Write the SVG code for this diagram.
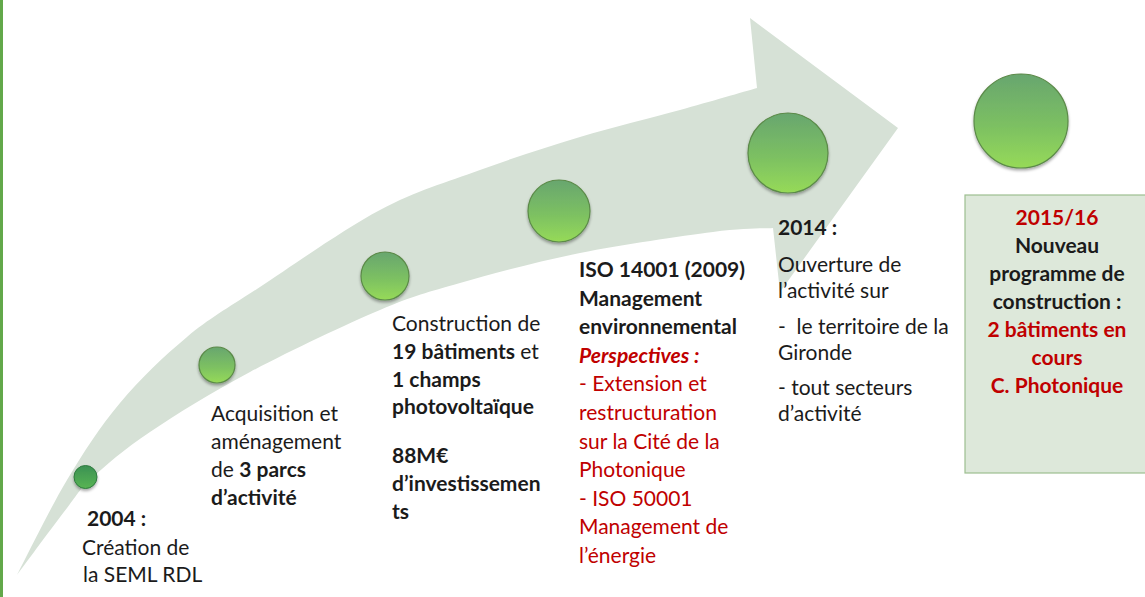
<svg xmlns="http://www.w3.org/2000/svg" width="1145" height="597" viewBox="0 0 1145 597">
<defs>
<linearGradient id="ball" x1="0" y1="0" x2="0" y2="1">
<stop offset="0" stop-color="#68a66f"/>
<stop offset="0.55" stop-color="#7cc062"/>
<stop offset="1" stop-color="#96da58"/>
</linearGradient>
<linearGradient id="ball1" x1="0" y1="0" x2="0" y2="1">
<stop offset="0" stop-color="#3b9152"/>
<stop offset="1" stop-color="#58b452"/>
</linearGradient>
<filter id="sh" x="-30%" y="-30%" width="160%" height="160%">
<feGaussianBlur in="SourceAlpha" stdDeviation="1.5"/>
<feOffset dx="0" dy="1.5" result="b"/>
<feComponentTransfer><feFuncA type="linear" slope="0.35"/></feComponentTransfer>
<feMerge><feMergeNode/><feMergeNode in="SourceGraphic"/></feMerge>
</filter>
</defs>
<style>
text{font-family:Lato,"Liberation Sans",sans-serif;font-size:21px;fill:#1b1b1b;white-space:pre}
.b{font-weight:bold}
.r{fill:#c00000}
.i{font-style:italic}
.ball{fill:url(#ball);stroke:#5b8a48;stroke-width:1.2;filter:url(#sh)}
.c{text-anchor:middle}
</style>
<rect x="0" y="0" width="1145" height="597" fill="#ffffff"/>
<rect x="0" y="0" width="3" height="597" fill="#62a84a"/>
<g id="timeline-arrow">
<path d="M17,575 C25.3,559.2 49.8,508.7 67,480 C84.2,451.3 100,426.8 120,403 C140,379.2 163.7,356.3 187,337 C210.3,317.7 227.8,308.2 260,287 C292.2,265.8 343.3,229.5 380,210 C416.7,190.5 446.7,182.2 480,170 C513.3,157.8 546.7,147 580,137 C613.3,127 650.5,118.2 680,110 C709.5,101.8 744.2,91.7 757,88 L750,18 L898,128 L780,292 L773,228 C763,228.7 745.2,227.8 713,232 C680.8,236.2 622.2,244.5 580,253 C537.8,261.5 493.3,273.5 460,283 C426.7,292.5 415,295.2 380,310 C345,324.8 288.3,351.7 250,372 C211.7,392.3 176.3,414.3 150,432 C123.7,449.7 105.8,465.3 92,478 C78.2,490.7 79.5,491.8 67,508 C54.5,524.2 25.3,563.8 17,575 Z" fill="#d6e1d6"/>
</g>
<g id="connectors"></g>
<g id="node-2004">
<circle cx="85.5" cy="477" r="11.5" fill="url(#ball1)" stroke="#2f7a40" stroke-width="1" filter="url(#sh)"/>
<text x="87" y="526" class="b">2004 :</text>
<text x="82" y="555">Création de</text>
<text x="83" y="582">la SEML RDL</text>
</g>
<g id="node-acquisition">
<circle class="ball" cx="217" cy="365" r="18"/>
<text x="211" y="421">Acquisition et</text>
<text x="211" y="449">aménagement</text>
<text x="211" y="477">de <tspan class="b">3 parcs</tspan></text>
<text x="211" y="505" class="b">d’activité</text>
</g>
<g id="node-construction">
<circle class="ball" cx="385" cy="276" r="24"/>
<text x="392" y="331">Construction de</text>
<text x="392" y="359"><tspan class="b">19 bâtiments</tspan> et</text>
<text x="392" y="387" class="b">1 champs</text>
<text x="392" y="414" class="b">photovoltaïque</text>
<text x="392" y="463" class="b">88M€</text>
<text x="392" y="491" class="b">d’investissemen</text>
<text x="392" y="519" class="b">ts</text>
</g>
<g id="node-iso">
<circle class="ball" cx="559" cy="211" r="31"/>
<text x="579" y="277" class="b">ISO 14001 (2009)</text>
<text x="579" y="305.6" class="b">Management</text>
<text x="579" y="334.2" class="b">environnemental</text>
<text x="579" y="362.8" class="b i r">Perspectives :</text>
<text x="579" y="391.4" class="r">- Extension et</text>
<text x="579" y="420" class="r">restructuration</text>
<text x="579" y="448.6" class="r">sur la Cité de la</text>
<text x="579" y="477.2" class="r">Photonique</text>
<text x="579" y="505.8" class="r">- ISO 50001</text>
<text x="579" y="534.4" class="r">Management de</text>
<text x="579" y="563" class="r">l’énergie</text>
</g>
<g id="node-2014">
<circle class="ball" cx="788" cy="153" r="40"/>
<text x="778" y="235" class="b">2014 :</text>
<text x="778" y="272">Ouverture de</text>
<text x="778" y="298">l’activité sur</text>
<text x="778" y="334">-  le territoire de la</text>
<text x="778" y="360">Gironde</text>
<text x="778" y="395">- tout secteurs</text>
<text x="778" y="421">d’activité</text>
</g>
<g id="node-2015">
<circle class="ball" cx="1021" cy="121" r="47"/>
<rect x="965" y="195" width="185" height="278" fill="#dde8da" stroke="#9dbf90" stroke-width="1.2"/>
<text x="1057" y="225" class="b r c">2015/16</text>
<text x="1057" y="253" class="b c">Nouveau</text>
<text x="1057" y="281" class="b c">programme de</text>
<text x="1057" y="309" class="b c">construction :</text>
<text x="1057" y="337" class="b r c">2 bâtiments en</text>
<text x="1057" y="365" class="b r c">cours</text>
<text x="1057" y="393" class="b r c">C. Photonique</text>
</g>
</svg>
